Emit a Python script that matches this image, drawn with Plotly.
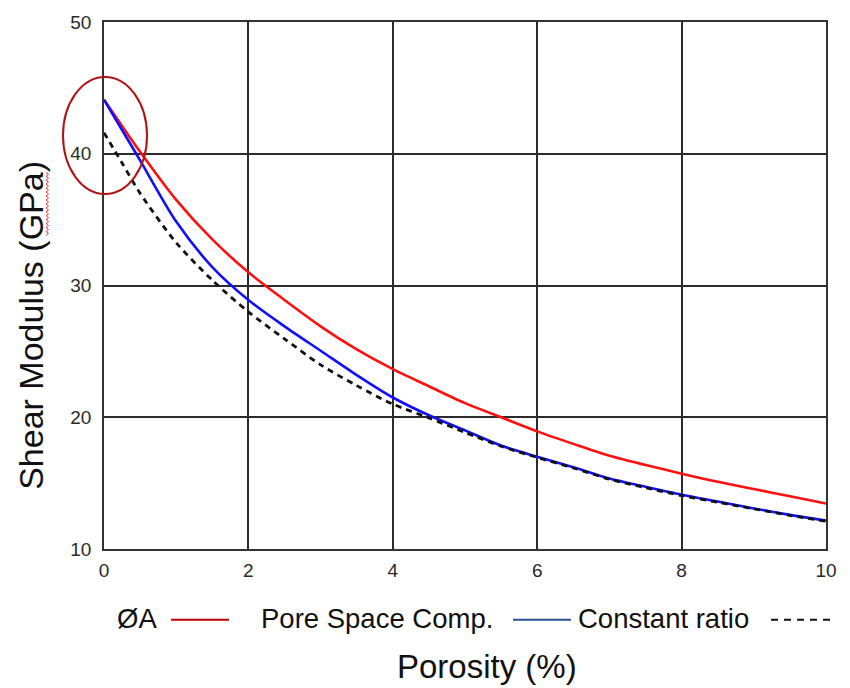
import numpy as np
import plotly.graph_objects as go

# Porosity (%) sample points
porosity = [0, 0.25, 0.5, 1.0, 1.5, 2.0, 2.5, 3.0, 3.5, 4.0, 4.5, 5.0,
            5.5, 6.0, 6.5, 7.0, 7.5, 8.0, 8.5, 9.0, 9.5, 10.0]

# Shear modulus (GPa) for each model
shear_red = [44.1, 42.1, 40.15, 36.5, 33.5, 31.0, 28.9, 26.9, 25.15, 23.65, 22.35, 21.07,
             20.0, 18.93, 17.98, 17.08, 16.38, 15.72, 15.1, 14.55, 14.0, 13.45]
shear_blue = [44.1, 41.8, 39.5, 34.85, 31.4, 28.9, 26.9, 25.05, 23.2, 21.5, 20.15, 19.0,
              17.85, 17.0, 16.2, 15.35, 14.72, 14.12, 13.6, 13.08, 12.59, 12.15]
shear_dash = [41.6, 39.3, 37.0, 33.25, 30.4, 28.0, 25.95, 23.98, 22.4, 21.0, 19.95, 18.85,
              17.8, 16.95, 16.15, 15.3, 14.65, 14.05, 13.55, 13.05, 12.55, 12.1]

x_ticks = [0, 2, 4, 6, 8, 10]
y_ticks = [10, 20, 30, 40, 50]

legend_labels = ["ØA", "Pore Space Comp.", "Constant ratio"]

W, H = 850, 688
L, R, T, B = 104, 24, 13, 139
PW, PH = W - L - R, H - T - B


def px(xp):
    return (xp - L) / PW


def py(yp):
    return (H - B - yp) / PH


fig = go.Figure()
fig.add_trace(go.Scatter(x=porosity, y=shear_red, mode="lines",
                         line=dict(color="#ff1010", width=2.6, shape="spline", smoothing=0.8),
                         showlegend=False))
fig.add_trace(go.Scatter(x=porosity, y=shear_blue, mode="lines",
                         line=dict(color="#1010ff", width=2.6, shape="spline", smoothing=0.8),
                         showlegend=False))
fig.add_trace(go.Scatter(x=porosity, y=shear_dash, mode="lines",
                         line=dict(color="#111111", width=2.8, dash="6px,5px",
                                   shape="spline", smoothing=0.8),
                         showlegend=False))

axis_common = dict(showgrid=True, gridcolor="#2b2b2b", gridwidth=1.6,
                   showline=True, linecolor="#333333", linewidth=1.6, mirror=True,
                   zeroline=False, ticks="",
                   tickfont=dict(family="Liberation Sans", size=19, color="#2a2a2a"))

fig.update_xaxes(range=[0, 10], tickvals=x_ticks, ticktext=[str(v) for v in x_ticks],
                 ticklabelstandoff=3, **axis_common)
fig.update_yaxes(range=[10, 50], tickvals=y_ticks, ticktext=[str(v) for v in y_ticks],
                 ticklabelstandoff=7, **axis_common)

shapes = []
annotations = []

# Ellipse highlighting the zero-porosity end
shapes.append(dict(type="circle", xref="paper", yref="paper",
                   x0=px(63), x1=px(147), y0=py(188), y1=py(69),
                   line=dict(color="#b01414", width=2)))

# Bottom legend row
ly = py(620)
font_leg = dict(family="Liberation Sans", size=27.5, color="#111111")
annotations.append(dict(text=legend_labels[0], xref="paper", yref="paper", x=px(115), y=ly,
                        xanchor="left", yanchor="middle", showarrow=False, font=font_leg))
annotations.append(dict(text=legend_labels[1], xref="paper", yref="paper", x=px(259), y=ly,
                        xanchor="left", yanchor="middle", showarrow=False, font=font_leg))
annotations.append(dict(text=legend_labels[2], xref="paper", yref="paper", x=px(576), y=ly,
                        xanchor="left", yanchor="middle", showarrow=False, font=font_leg))
line_y = py(621)
shapes.append(dict(type="line", xref="paper", yref="paper", x0=px(171), x1=px(229),
                   y0=line_y, y1=line_y, line=dict(color="#c00000", width=2)))
shapes.append(dict(type="line", xref="paper", yref="paper", x0=px(513), x1=px(571),
                   y0=line_y, y1=line_y, line=dict(color="#2b4f90", width=2)))
shapes.append(dict(type="line", xref="paper", yref="paper", x0=px(771), x1=px(830),
                   y0=line_y, y1=line_y, line=dict(color="#111111", width=2, dash="7px,6px")))

# Axis titles
annotations.append(dict(text="Porosity (%)", xref="paper", yref="paper", x=px(487), y=py(669),
                        xanchor="center", yanchor="middle", showarrow=False,
                        font=dict(family="Liberation Sans", size=33, color="#111111")))
annotations.append(dict(text="Shear Modulus (GPa)", xref="paper", yref="paper", x=px(31),
                        y=py(322), xanchor="center", yanchor="middle", showarrow=False,
                        textangle=-90,
                        font=dict(family="Liberation Sans", size=34, color="#111111")))

# Wavy spell-check underline beside "GPa"
ys = np.arange(166, 232, 2.0)
xs = np.where(np.arange(len(ys)) % 2 == 0, 46.0, 48.5)
path = "M " + " L ".join(f"{px(a):.5f},{py(b):.5f}" for a, b in zip(xs, ys))
shapes.append(dict(type="path", xref="paper", yref="paper", path=path,
                   line=dict(color="#ff3030", width=1)))

fig.update_layout(width=W, height=H, autosize=False,
                  margin=dict(l=L, r=R, t=T, b=B, pad=0),
                  paper_bgcolor="white", plot_bgcolor="white",
                  shapes=shapes, annotations=annotations, showlegend=False)

fig.write_html("out.html")
